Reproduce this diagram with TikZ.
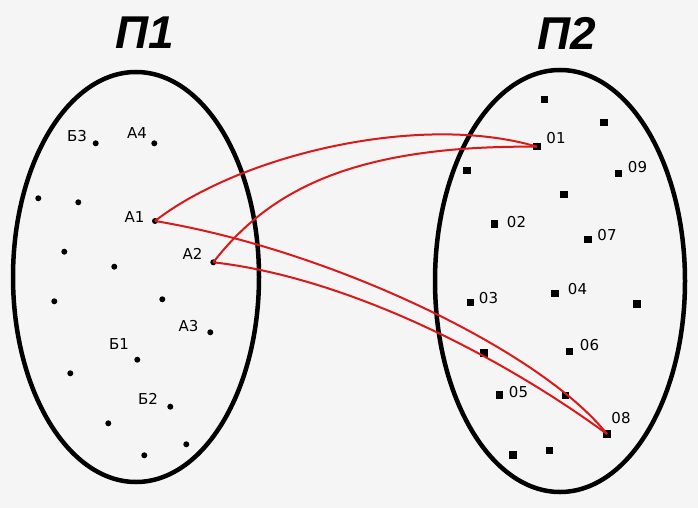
\documentclass[tikz,border=0pt]{standalone}
\usepackage{fontspec}
\setmainfont{DejaVu Sans}
\newfontfamily\titlefont{Liberation Sans}
\usepackage{tikz}
\definecolor{linec}{HTML}{DA1A1A}
\definecolor{paperc}{HTML}{F5F5F5}
\tikzset{
  setl/.style={draw=black,line width=4.5pt},
  ldot/.style={circle,fill=black,inner sep=0pt,minimum size=6pt},
  rsq/.style={rectangle,fill=black,inner sep=0pt,minimum size=7.5pt},
  lbl/.style={font=\fontsize{15}{15}\selectfont,inner sep=0pt},
  ttl/.style={font=\titlefont\bfseries\itshape\fontsize{46}{46}\selectfont,inner sep=0pt},
  rl/.style={linec,line width=2pt}
}

\begin{document}
\begin{tikzpicture}[x=1pt,y=-1pt]
\fill[paperc] (0,0) rectangle (698,508);
\useasboundingbox (0,0) rectangle (698,508);

% the two sets
\draw[setl] (136,277) ellipse [x radius=123,y radius=205];
\draw[setl] (560,281) ellipse [x radius=125,y radius=211];
\node[ttl] (t1) at (145,33) {П1};
\node[ttl] (t2) at (567,33) {П2};

% left set
\node[ldot] (b3) at (95.7,143.3) {};
\node[ldot] (a4) at (154.3,143.3) {};
\node[ldot] (l1) at (38.3,198.3) {};
\node[ldot] (l2) at (78.3,202.3) {};
\node[ldot] (a1) at (155,221) {};
\node[ldot] (l3) at (64.3,251.7) {};
\node[ldot] (l4) at (114.3,266.7) {};
\node[ldot] (a2) at (213.3,262.3) {};
\node[ldot] (l5) at (54.3,301.3) {};
\node[ldot] (l6) at (162.3,299.3) {};
\node[ldot] (a3) at (210.3,332.3) {};
\node[ldot] (b1) at (137.3,359.7) {};
\node[ldot] (l7) at (70.3,373.3) {};
\node[ldot] (b2) at (170.3,406.7) {};
\node[ldot] (l8) at (108.3,423.3) {};
\node[ldot] (l9) at (144.3,455.3) {};
\node[ldot] (l10) at (186.3,444.3) {};

\node[lbl] (b3t) at (77,136.5) {Б3};
\node[lbl] (a4t) at (137,133) {А4};
\node[lbl] (a1t) at (134.5,217.5) {А1};
\node[lbl] (a2t) at (192.5,254) {А2};
\node[lbl] (a3t) at (188.5,326.5) {А3};
\node[lbl] (b1t) at (119,344.5) {Б1};
\node[lbl] (b2t) at (148,399) {Б2};

% right set
\node[rsq] (r1) at (544.7,99.7) {};
\node[rsq] (r2) at (604,122.7) {};
\node[rsq] (o1) at (537,146.7) {};
\node[rsq] (r3) at (467,170.7) {};
\node[rsq] (o9) at (618.3,173.7) {};
\node[rsq] (r4) at (564,194.7) {};
\node[rsq] (o2) at (494.7,224) {};
\node[rsq] (o7) at (588,239.3) {};
\node[rsq] (o3) at (470.3,302.3) {};
\node[rsq] (o4) at (555,293.7) {};
\node[rsq] (r5) at (637,304) {};
\node[rsq] (r6) at (484,353) {};
\node[rsq] (o6) at (569.7,351.7) {};
\node[rsq] (o5) at (499.7,395) {};
\node[rsq] (r7) at (565.7,395.7) {};
\node[rsq] (o8) at (607,434) {};
\node[rsq] (r8) at (513,455) {};
\node[rsq] (r9) at (549.7,450.7) {};

\node[lbl] (o1t) at (556,138.5) {01};
\node[lbl] (o9t) at (637.5,167.5) {09};
\node[lbl] (o2t) at (516.5,222.5) {02};
\node[lbl] (o7t) at (607,235.5) {07};
\node[lbl] (o3t) at (488.5,298.5) {03};
\node[lbl] (o4t) at (577.5,289.5) {04};
\node[lbl] (o6t) at (589.5,345.5) {06};
\node[lbl] (o5t) at (518.5,392) {05};
\node[lbl] (o8t) at (621,418.5) {08};

% mapping
\draw[rl] (a1.center) .. controls (240,155) and (420,112) .. (o1.center);
\draw[rl] (a2.center) .. controls (268,192) and (350,145) .. (o1.center);
\draw[rl] (a1.center) .. controls (330,250) and (540,350) .. (o8.center);
\draw[rl] (a2.center) .. controls (335,276) and (485,345) .. (o8.center);
\end{tikzpicture}
\end{document}
